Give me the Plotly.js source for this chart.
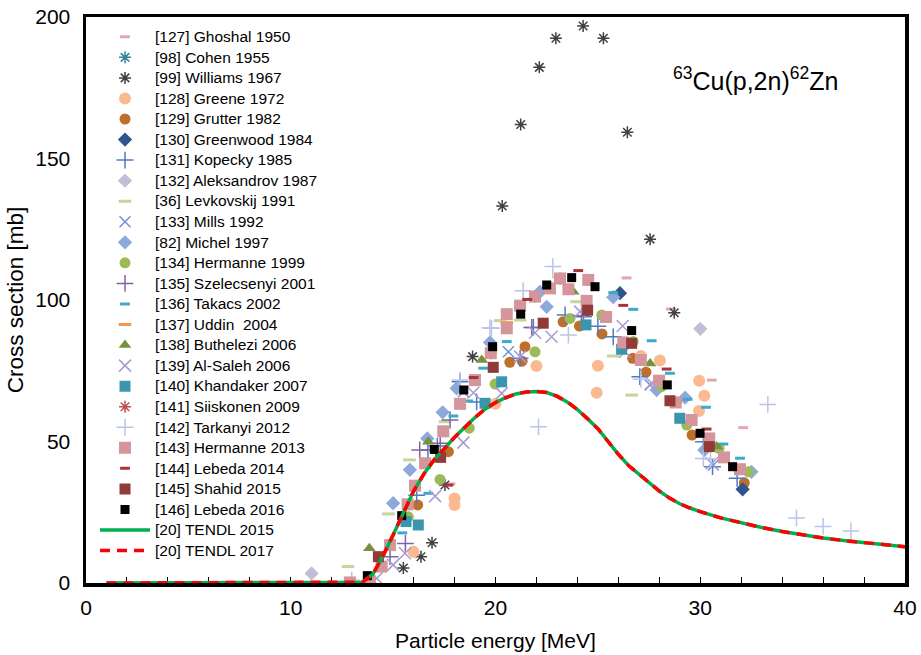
<!DOCTYPE html>
<html>
<head>
<meta charset="utf-8">
<script src="https://cdn.plot.ly/plotly-3.0.1.min.js"></script>
<style>html,body{margin:0;padding:0;background:#fff;}#chart{width:921px;height:655px;}</style>
</head>
<body>
<div id="chart"></div>
<script>
// ---- Data ----
const ghoshalX = [17.8, 26.4, 28.57, 30.56, 32.1];
const ghoshalY = [35, 107.8, 96.8, 71.7, 54.9];
const cohenX = [21.93, 23.15];
const cohenY = [101.2, 107.6];
const williamsX = [15.5, 16.36, 16.9, 17.53, 18.88, 20.33, 21.23, 22.14, 22.95, 24.28, 25.27, 26.44, 27.55, 28.73];
const williamsY = [5.3, 9.3, 14.2, 34.6, 80, 133.2, 162, 182.2, 192.5, 196.8, 192.5, 159.3, 121.5, 95.5];
const greeneX = [16.0, 18.0, 18.0, 20.0, 22.0, 24.94, 25.0, 27.1, 28.03, 29.94, 29.95, 30.2];
const greeneY = [11, 29.9, 27.6, 63.3, 76.7, 67.2, 76.8, 80.2, 78.6, 60.8, 71.5, 66.2];
const grutterX = [16.2, 17.7, 20.7, 21.3, 21.44, 23.3, 24.1, 25.2, 26.7, 27.35, 29.6, 32.15];
const grutterY = [27.6, 46.4, 78, 78.4, 83.5, 92.3, 90.8, 88, 79.4, 74.5, 52.3, 35.4];
const greenwoodX = [26.08, 32.07];
const greenwoodY = [102.4, 33.1];
const kopeckyX = [16.15, 16.7, 17.16, 18.27, 19.08, 21.2, 21.85, 23.4, 24.3, 25.0, 25.75, 27.05, 30.15, 30.6, 31.8];
const kopeckyY = [31, 47, 48.4, 71.1, 64, 79.4, 90.3, 94.7, 94.1, 90.7, 87, 72.9, 49.9, 41.1, 37];
const aleksandrovX = [11.02, 30.0];
const aleksandrovY = [3.4, 89.8];
const levkovskijX = [12.8, 14.77, 15.8, 17.53, 20.22, 21.2, 23.07, 23.96, 25.75, 26.65];
const levkovskijY = [5.8, 24.4, 43.5, 57, 92.7, 92.9, 108.2, 99.4, 80.2, 66.4];
const millsX = [18.43, 20.63, 27.55, 30.64];
const millsY = [67.6, 81.7, 70, 41.7];
const michelX = [15.0, 15.82, 16.67, 17.42, 18.1, 19.73, 22.17, 22.5, 25.75, 27.87, 29.26, 30.2, 32.5];
const michelY = [28.2, 40, 51.1, 60.3, 68.8, 85, 102.9, 97.6, 101, 68.2, 65.5, 47, 39.3];
const hermanne99X = [15.74, 17.29, 18.72, 19.98, 21.93, 23.64, 25.19, 26.73, 28.1, 29.34, 30.92, 32.35];
const hermanne99Y = [23.4, 36.6, 54.7, 70.3, 81.7, 93.5, 94.7, 85.3, 69.4, 55.8, 47.6, 39.3];
const szelecsenyiX = [14.85, 15.6, 16.3, 17.3, 17.78, 21.77, 24.2];
const szelecsenyiY = [9.3, 14, 47, 49.4, 57.6, 90.3, 94.4];
const takacsX = [15.45, 16.72, 17.94, 18.67, 19.4, 20.55, 24.53, 25.75, 26.73, 27.63, 28.52, 29.38, 30.28, 31.13, 31.94];
const takacsY = [17.7, 31.7, 59, 64.3, 75.9, 85.3, 108, 102.6, 96.7, 85.6, 74.1, 64.9, 62.1, 49.1, 44.1];
const uddinX = [20.55, 28.8];
const uddinY = [92, 63.8];
const butheleziX = [13.84, 16.72, 19.33, 23.8, 27.55, 30.8];
const butheleziY = [12.3, 49.9, 78.8, 102.9, 77.6, 48.2];
const alsalehX = [14.2, 15.0, 15.58, 17.05, 18.43, 18.92, 20.3, 21.2, 21.93, 22.74, 24.13, 26.21, 26.33, 27.63, 30.56];
const alsalehY = [1.7, 6.4, 10.5, 30.7, 49.6, 67.2, 67, 80, 88.4, 87, 95.9, 90.8, 81.7, 70.6, 42.3];
const khandakerX = [15.63, 16.23, 19.49, 20.3, 24.42, 26.16, 29.0];
const khandakerY = [21.7, 20.5, 63.5, 71.1, 91.2, 82.6, 58.2];
const siiskonenX = [19.77, 25.4];
const siiskonenY = [81.2, 94];
const tarkanyiX = [12.98, 18.27, 19.73, 19.8, 21.35, 22.1, 22.8, 23.56, 27.1, 30.15, 30.5, 33.3, 34.7, 36.0, 37.36];
const tarkanyiY = [1, 71.7, 90.2, 90, 103.3, 55.2, 111.8, 87.6, 72, 44, 43.8, 63.1, 23, 20, 18.4];
const hermanne13X = [12.89, 13.87, 14.44, 14.85, 15.71, 16.07, 16.56, 17.45, 18.27, 19.0, 19.77, 20.55, 20.55, 21.2, 21.93, 22.66, 23.15, 23.56, 24.53, 24.45, 25.4, 26.24, 27.1, 27.99, 28.8, 29.58, 30.44, 31.16, 31.94];
const hermanne13Y = [0.2, 0.5, 5.8, 13.4, 27.8, 34.4, 42.3, 53.6, 63.3, 71.7, 81.2, 90, 95, 98, 101.2, 104.1, 107.6, 103.8, 107.1, 99.7, 94, 85, 78.8, 71.5, 63.8, 57.6, 51.1, 44.4, 40.2];
const lebeda14X = [17.7, 18.93, 21.55, 24.04, 26.24, 28.36, 30.31];
const lebeda14Y = [34.6, 72.6, 100.2, 110.4, 98.1, 75.6, 54.4];
const shahidX = [14.28, 17.32, 19.89, 22.33, 24.5, 26.65, 28.52, 30.44];
const shahidY = [9.3, 44.4, 76.2, 91.8, 96.4, 84.7, 64.4, 48.2];
const lebeda16X = [13.74, 15.42, 17.01, 18.45, 19.86, 21.23, 22.5, 23.72, 24.86, 26.65, 28.39, 29.99, 31.58];
const lebeda16Y = [2.6, 23.8, 47.2, 68.2, 83.5, 95, 105.3, 107.9, 104.7, 89.2, 70, 52.9, 41.1];
const tendlX = [1, 13, 13.5, 14, 14.5, 15, 15.5, 16, 16.5, 17, 17.5, 18, 18.5, 19, 19.5, 20, 20.5, 21, 21.5, 22, 22.5, 23, 23.5, 24, 24.5, 25, 25.5, 26, 26.5, 27, 27.5, 28, 28.5, 29, 29.5, 30, 31, 32, 33, 34, 35, 36, 37, 38, 39, 40];
const tendl2015Y = [0, 0, 0.3, 3, 9.5, 17, 25, 32.5, 38.5, 43.5, 47.5, 51.5, 55, 58.5, 61.5, 63.8, 65.5, 66.8, 67.5, 67.7, 67.3, 66, 64, 61.3, 58, 54.5, 50, 45.5, 41.5, 38.5, 35.5, 32.5, 30, 28, 26.5, 25.2, 23, 21.2, 19.6, 18.2, 17, 15.9, 15, 14.2, 13.5, 12.8];
const tendl2017Y = tendl2015Y.slice();

// ---- Traces ----
function lbl(s) { return '<span style="font-size:15.5px">' + s + '</span>'; }
function lineSym(name, x, y, symbol, color, size, lw) {
  return {type:'scatter', mode:'markers', name:lbl(name), x:x, y:y,
    marker:{symbol:symbol, size:size, color:color, line:{color:color, width:lw}}};
}
function fillSym(name, x, y, symbol, color, size) {
  return {type:'scatter', mode:'markers', name:lbl(name), x:x, y:y,
    marker:{symbol:symbol, size:size, color:color, line:{width:0}}};
}
const traces = [
  lineSym('[127] Ghoshal 1950', ghoshalX, ghoshalY, 'line-ew', '#E3A6B0', 7, 3),
  lineSym('[98] Cohen 1955', cohenX, cohenY, 'asterisk', '#31859C', 10, 1.5),
  lineSym('[99] Williams 1967', williamsX, williamsY, 'asterisk', '#404040', 10, 1.5),
  fillSym('[128] Greene 1972', greeneX, greeneY, 'circle', '#FAB98E', 12),
  fillSym('[129] Grutter 1982', grutterX, grutterY, 'circle', '#BF6F2C', 11),
  fillSym('[130] Greenwood 1984', greenwoodX, greenwoodY, 'diamond', '#2E558C', 11),
  lineSym('[131] Kopecky 1985', kopeckyX, kopeckyY, 'cross-thin', '#5079C6', 12, 1.5),
  fillSym('[132] Aleksandrov 1987', aleksandrovX, aleksandrovY, 'diamond', '#C5BDD8', 11),
  lineSym('[36] Levkovskij 1991', levkovskijX, levkovskijY, 'line-ew', '#C3D69B', 9, 3),
  lineSym('[133] Mills 1992', millsX, millsY, 'x-thin', '#7093D4', 11, 1.5),
  fillSym('[82] Michel 1997', michelX, michelY, 'diamond', '#8DA8DA', 11),
  fillSym('[134] Hermanne 1999', hermanne99X, hermanne99Y, 'circle', '#9BBB59', 11),
  lineSym('[135] Szelecsenyi 2001', szelecsenyiX, szelecsenyiY, 'cross-thin', '#8064A2', 12, 1.5),
  lineSym('[136] Takacs 2002', takacsX, takacsY, 'line-ew', '#3CA9C8', 7, 3),
  lineSym('[137] Uddin  2004', uddinX, uddinY, 'line-ew', '#F79646', 9, 3),
  fillSym('[138] Buthelezi 2006', butheleziX, butheleziY, 'triangle-up', '#76923C', 11),
  lineSym('[139] Al-Saleh 2006', alsalehX, alsalehY, 'x-thin', '#A99AD2', 12, 1.5),
  fillSym('[140] Khandaker 2007', khandakerX, khandakerY, 'square', '#3C95AF', 11),
  lineSym('[141] Siiskonen 2009', siiskonenX, siiskonenY, 'asterisk', '#C0504D', 10, 1.5),
  lineSym('[142] Tarkanyi 2012', tarkanyiX, tarkanyiY, 'cross-thin', '#BAC4E8', 12, 1.5),
  fillSym('[143] Hermanne 2013', hermanne13X, hermanne13Y, 'square', '#D4969A', 12),
  lineSym('[144] Lebeda 2014', lebeda14X, lebeda14Y, 'line-ew', '#A8343A', 7, 3),
  fillSym('[145] Shahid 2015', shahidX, shahidY, 'square', '#913A37', 11),
  fillSym('[146] Lebeda 2016', lebeda16X, lebeda16Y, 'square', '#000000', 9),
  {type:'scatter', mode:'lines', name:lbl('[20] TENDL 2015'), x:tendlX, y:tendl2015Y,
    line:{color:'#00B050', width:3.5}, cliponaxis:false},
  {type:'scatter', mode:'lines', name:lbl('[20] TENDL 2017'), x:tendlX, y:tendl2017Y,
    line:{color:'#FF0000', width:3.5, dash:'10px,7px'}, cliponaxis:false}
];

const font = 'Liberation Sans, Arial, sans-serif';
const layout = {
  width:921, height:655,
  margin:{l:86, r:16, t:17, b:72},
  paper_bgcolor:'#ffffff', plot_bgcolor:'#ffffff',
  font:{family:font, color:'#000', size:20},
  showlegend:true,
  hovermode:false,
  legend:{x:0.011, y:0.992, xanchor:'left', yanchor:'top', bgcolor:'rgba(0,0,0,0)',
    borderwidth:0, font:{family:font, size:13.5, color:'#000'}, itemwidth:50, tracegroupgap:0},
  xaxis:{range:[0,40], dtick:10, tick0:0, showline:true, linewidth:3.5, linecolor:'#000', mirror:true,
    ticks:'inside', ticklen:6, tickwidth:1, tickcolor:'#000', showgrid:false, zeroline:false,
    layer:'below traces',
    minor:{dtick:2, ticks:'inside', ticklen:6, tickwidth:1, tickcolor:'#000', showgrid:false},
    tickfont:{family:font, size:21, color:'#000'}, ticklabelstandoff:3,
    title:{text:'Particle energy [MeV]', font:{family:font, size:21, color:'#000'}, standoff:16}},
  yaxis:{range:[0,200], dtick:50, tick0:0, showline:true, linewidth:3.5, linecolor:'#000', mirror:true,
    ticks:'', showgrid:false, zeroline:false, layer:'below traces',
    tickfont:{family:font, size:21, color:'#000'}, ticklabelstandoff:8,
    title:{text:'Cross section [mb]', font:{family:font, size:22.5, color:'#000'}, standoff:6}},
  annotations:[{x:32.7, y:178, xref:'x', yref:'y', showarrow:false,
    text:'<sup>63</sup>Cu(p,2n)<sup>62</sup>Zn', font:{family:font, size:25, color:'#000'}}]
};

Plotly.newPlot('chart', traces, layout, {displayModeBar:false, staticPlot:true});
</script>
</body>
</html>
